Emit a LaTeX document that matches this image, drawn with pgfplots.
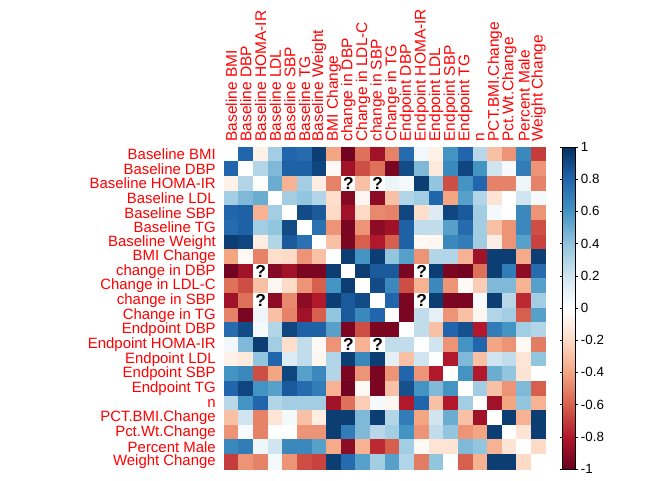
\documentclass[border=0pt]{standalone}
\usepackage{pgfplots}
\pgfplotsset{compat=1.18}
\usepackage{fontspec}
\setmainfont{Liberation Sans}
\begin{document}
\begin{tikzpicture}
\useasboundingbox (-168pt,-8.25pt) rectangle (336pt,351.75pt);
\begin{axis}[
 at={(0pt,0pt)}, anchor=south west,
 scale only axis, width=241.5pt, height=241.5pt,
 xmin=-0.5, xmax=21.5, ymin=-0.5, ymax=21.5,
 axis line style={draw=none}, major tick length=0pt,
 xtick={0,...,21}, ytick={0,...,21},
 xticklabels={Baseline BMI,Baseline DBP,Baseline HOMA-IR,Baseline LDL,Baseline SBP,Baseline TG,Baseline Weight,BMI Change,change in DBP,Change in LDL-C,change in SBP,Change in TG,Endpoint DBP,Endpoint HOMA-IR,Endpoint LDL,Endpoint SBP,Endpoint TG,n,PCT.BMI.Change,Pct.Wt.Change,Percent Male,Weight Change},
 yticklabels={Weight Change,Percent Male,Pct.Wt.Change,PCT.BMI.Change,n,Endpoint TG,Endpoint SBP,Endpoint LDL,Endpoint HOMA-IR,Endpoint DBP,Change in TG,change in SBP,Change in LDL-C,change in DBP,BMI Change,Baseline Weight,Baseline TG,Baseline SBP,Baseline LDL,Baseline HOMA-IR,Baseline DBP,Baseline BMI},
 xticklabel pos=right,
 xticklabel style={yshift=3pt, rotate=90, anchor=west, font=\fontsize{11.6}{11.6}\selectfont, text=red, inner sep=1pt},
 yticklabel style={anchor=east, font=\fontsize{11.2}{11.2}\selectfont, text=red, inner sep=1pt, xshift=-5pt},
 colormap={rdbu}{rgb255=(103,0,31) rgb255=(178,24,43) rgb255=(214,96,77) rgb255=(244,165,130) rgb255=(253,219,199) rgb255=(255,255,255) rgb255=(209,229,240) rgb255=(146,197,222) rgb255=(67,147,195) rgb255=(33,102,172) rgb255=(5,48,97)},
 point meta min=-1, point meta max=1,
 colorbar,
 colorbar style={
   at={(parent axis.north east)}, anchor=north west, xshift=3.75pt,
   width=9.75pt,
   ytick={-1,-0.8,-0.6,-0.4,-0.2,0,0.2,0.4,0.6,0.8,1},
   yticklabel style={font=\fontsize{10}{10}\selectfont, /pgf/number format/assume math mode=true, inner sep=2pt},
   tick align=outside, major tick length=2pt, tick style={black, thin},
   axis line style={black, thin},
 },
]
\addplot[matrix plot*, mesh/cols=22, point meta=explicit] table[row sep=\\, meta=c] {
x y c\\
0 21 0\\ 1 21 0.8\\ 2 21 -0.08\\ 3 21 0.35\\ 4 21 0.8\\ 5 21 0.78\\ 6 21 0.95\\ 7 21 -0.4\\ 8 21 -0.97\\ 9 21 -0.55\\ 10 21 -0.85\\ 11 21 -0.5\\ 12 21 0.78\\ 13 21 0.06\\ 14 21 -0.08\\ 15 21 0.6\\ 16 21 0.8\\ 17 21 0.28\\ 18 21 -0.3\\ 19 21 -0.45\\ 20 21 0.65\\ 21 21 -0.7\\
0 20 0.8\\ 1 20 0\\ 2 20 0.3\\ 3 20 0.45\\ 4 20 0.82\\ 5 20 0.82\\ 6 20 0.92\\ 7 20 -0.03\\ 8 20 -0.85\\ 9 20 -0.65\\ 10 20 -0.55\\ 11 20 -0.95\\ 12 20 0.9\\ 13 20 0.45\\ 14 20 -0.12\\ 15 20 0.65\\ 16 20 0.92\\ 17 20 0.6\\ 18 20 0.2\\ 19 20 0.04\\ 20 20 0.7\\ 21 20 -0.45\\
0 19 -0.08\\ 1 19 0.3\\ 2 19 0\\ 3 19 0.5\\ 4 19 -0.35\\ 5 19 0.35\\ 6 19 -0.1\\ 7 19 -0.5\\ 8 19 0\\ 9 19 -0.3\\ 10 19 0\\ 11 19 0.08\\ 12 19 0.05\\ 13 19 0.95\\ 14 19 0.4\\ 15 19 -0.65\\ 16 19 0.6\\ 17 19 0.8\\ 18 19 -0.5\\ 19 19 -0.5\\ 20 19 0.07\\ 21 19 -0.5\\
0 18 0.35\\ 1 18 0.45\\ 2 18 0.5\\ 3 18 0\\ 4 18 0.35\\ 5 18 0.4\\ 6 18 0.3\\ 7 18 -0.18\\ 8 18 -0.92\\ 9 18 -0.05\\ 10 18 -0.9\\ 11 18 -0.3\\ 12 18 0.3\\ 13 18 0.35\\ 14 18 0.8\\ 15 18 -0.4\\ 16 18 0.55\\ 17 18 0.3\\ 18 18 -0.15\\ 19 18 0\\ 20 18 0.2\\ 21 18 0.05\\
0 17 0.8\\ 1 17 0.82\\ 2 17 -0.35\\ 3 17 0.35\\ 4 17 0\\ 5 17 0.9\\ 6 17 0.85\\ 7 17 -0.2\\ 8 17 -0.85\\ 9 17 -0.2\\ 10 17 -0.48\\ 11 17 -0.5\\ 12 17 0.92\\ 13 17 -0.18\\ 14 17 0.15\\ 15 17 0.92\\ 16 17 0.85\\ 17 17 0.35\\ 18 17 0.05\\ 19 17 0\\ 20 17 0.65\\ 21 17 -0.45\\
0 16 0.78\\ 1 16 0.82\\ 2 16 0.35\\ 3 16 0.4\\ 4 16 0.9\\ 5 16 0\\ 6 16 0.75\\ 7 16 -0.45\\ 8 16 -0.95\\ 9 16 -0.45\\ 10 16 -0.9\\ 11 16 -0.85\\ 12 16 0.82\\ 13 16 0.25\\ 14 16 0.25\\ 15 16 0.55\\ 16 16 0.78\\ 17 16 0.35\\ 18 16 -0.3\\ 19 16 -0.45\\ 20 16 0.65\\ 21 16 -0.65\\
0 15 0.95\\ 1 15 0.92\\ 2 15 -0.1\\ 3 15 0.3\\ 4 15 0.85\\ 5 15 0.75\\ 6 15 0\\ 7 15 -0.3\\ 8 15 -0.95\\ 9 15 -0.6\\ 10 15 -0.8\\ 11 15 -0.6\\ 12 15 0.82\\ 13 15 -0.03\\ 14 15 -0.05\\ 15 15 0.65\\ 16 15 0.7\\ 17 15 0.35\\ 18 15 -0.1\\ 19 15 -0.45\\ 20 15 0.55\\ 21 15 -0.68\\
0 14 -0.4\\ 1 14 -0.03\\ 2 14 -0.5\\ 3 14 -0.18\\ 4 14 -0.2\\ 5 14 -0.45\\ 6 14 -0.3\\ 7 14 0\\ 8 14 0.95\\ 9 14 0.6\\ 10 14 0.95\\ 11 14 0.4\\ 12 14 0.55\\ 13 14 -0.45\\ 14 14 0.3\\ 15 14 0.3\\ 16 14 -0.35\\ 17 14 -0.85\\ 18 14 0.95\\ 19 14 0.95\\ 20 14 -0.38\\ 21 14 0.95\\
0 13 -0.97\\ 1 13 -0.85\\ 2 13 0\\ 3 13 -0.92\\ 4 13 -0.85\\ 5 13 -0.95\\ 6 13 -0.95\\ 7 13 0.95\\ 8 13 0\\ 9 13 0.95\\ 10 13 0.85\\ 11 13 0.85\\ 12 13 -0.95\\ 13 13 0\\ 14 13 0.95\\ 15 13 -0.95\\ 16 13 -0.97\\ 17 13 -0.55\\ 18 13 0.95\\ 19 13 0.7\\ 20 13 -0.9\\ 21 13 0.78\\
0 12 -0.55\\ 1 12 -0.65\\ 2 12 -0.3\\ 3 12 -0.05\\ 4 12 -0.2\\ 5 12 -0.45\\ 6 12 -0.6\\ 7 12 0.6\\ 8 12 0.95\\ 9 12 0\\ 10 12 0.9\\ 11 12 0.65\\ 12 12 -0.65\\ 13 12 -0.35\\ 14 12 0.65\\ 15 12 -0.45\\ 16 12 -0.03\\ 17 12 -0.25\\ 18 12 0.45\\ 19 12 0.45\\ 20 12 -0.35\\ 21 12 0.55\\
0 11 -0.85\\ 1 11 -0.55\\ 2 11 0\\ 3 11 -0.9\\ 4 11 -0.48\\ 5 11 -0.9\\ 6 11 -0.8\\ 7 11 0.95\\ 8 11 0.85\\ 9 11 0.9\\ 10 11 0\\ 11 11 0.8\\ 12 11 -0.95\\ 13 11 0\\ 14 11 0.95\\ 15 11 -0.95\\ 16 11 -0.95\\ 17 11 0.04\\ 18 11 0.95\\ 19 11 0.28\\ 20 11 -0.75\\ 21 11 0.35\\
0 10 -0.5\\ 1 10 -0.95\\ 2 10 0.08\\ 3 10 -0.3\\ 4 10 -0.5\\ 5 10 -0.85\\ 6 10 -0.6\\ 7 10 0.4\\ 8 10 0.85\\ 9 10 0.65\\ 10 10 0.8\\ 11 10 0\\ 12 10 -0.95\\ 13 10 0.25\\ 14 10 0.12\\ 15 10 -0.45\\ 16 10 -0.3\\ 17 10 -0.05\\ 18 10 0.3\\ 19 10 0.35\\ 20 10 -0.6\\ 21 10 0.55\\
0 9 0.78\\ 1 9 0.9\\ 2 9 0.05\\ 3 9 0.3\\ 4 9 0.92\\ 5 9 0.82\\ 6 9 0.82\\ 7 9 0.55\\ 8 9 -0.95\\ 9 9 -0.65\\ 10 9 -0.95\\ 11 9 -0.95\\ 12 9 0\\ 13 9 0.25\\ 14 9 -0.3\\ 15 9 0.8\\ 16 9 0.88\\ 17 9 -0.8\\ 18 9 0.7\\ 19 9 0.6\\ 20 9 0.35\\ 21 9 0.3\\
0 8 0.06\\ 1 8 0.45\\ 2 8 0.95\\ 3 8 0.35\\ 4 8 -0.18\\ 5 8 0.25\\ 6 8 -0.03\\ 7 8 -0.45\\ 8 8 0\\ 9 8 -0.35\\ 10 8 0\\ 11 8 0.25\\ 12 8 0.25\\ 13 8 0\\ 14 8 0.2\\ 15 8 -0.45\\ 16 8 0.6\\ 17 8 0.8\\ 18 8 -0.4\\ 19 8 -0.45\\ 20 8 -0.03\\ 21 8 -0.52\\
0 7 -0.08\\ 1 7 -0.12\\ 2 7 0.4\\ 3 7 0.8\\ 4 7 0.15\\ 5 7 0.25\\ 6 7 -0.05\\ 7 7 0.3\\ 8 7 0.95\\ 9 7 0.65\\ 10 7 0.95\\ 11 7 0.12\\ 12 7 -0.3\\ 13 7 0.2\\ 14 7 0\\ 15 7 -0.8\\ 16 7 0.45\\ 17 7 -0.3\\ 18 7 0.2\\ 19 7 0.25\\ 20 7 -0.15\\ 21 7 0.4\\
0 6 0.6\\ 1 6 0.65\\ 2 6 -0.65\\ 3 6 -0.4\\ 4 6 0.92\\ 5 6 0.55\\ 6 6 0.65\\ 7 6 0.3\\ 8 6 -0.95\\ 9 6 -0.45\\ 10 6 -0.95\\ 11 6 -0.45\\ 12 6 0.8\\ 13 6 -0.45\\ 14 6 -0.8\\ 15 6 0\\ 16 6 0.6\\ 17 6 -0.8\\ 18 6 0.5\\ 19 6 0.4\\ 20 6 -0.15\\ 21 6 0\\
0 5 0.8\\ 1 5 0.92\\ 2 5 0.6\\ 3 5 0.55\\ 4 5 0.85\\ 5 5 0.78\\ 6 5 0.7\\ 7 5 -0.35\\ 8 5 -0.97\\ 9 5 -0.03\\ 10 5 -0.95\\ 11 5 -0.3\\ 12 5 0.88\\ 13 5 0.6\\ 14 5 0.45\\ 15 5 0.6\\ 16 5 0\\ 17 5 0.35\\ 18 5 -0.3\\ 19 5 -0.45\\ 20 5 0.45\\ 21 5 -0.6\\
0 4 0.28\\ 1 4 0.6\\ 2 4 0.8\\ 3 4 0.3\\ 4 4 0.35\\ 5 4 0.35\\ 6 4 0.35\\ 7 4 -0.85\\ 8 4 -0.55\\ 9 4 -0.25\\ 10 4 0.04\\ 11 4 -0.05\\ 12 4 -0.8\\ 13 4 0.8\\ 14 4 -0.3\\ 15 4 -0.8\\ 16 4 0.35\\ 17 4 0\\ 18 4 -0.85\\ 19 4 -0.4\\ 20 4 0.4\\ 21 4 -0.35\\
0 3 -0.3\\ 1 3 0.2\\ 2 3 -0.5\\ 3 3 -0.15\\ 4 3 0.05\\ 5 3 -0.3\\ 6 3 -0.1\\ 7 3 0.95\\ 8 3 0.95\\ 9 3 0.45\\ 10 3 0.95\\ 11 3 0.3\\ 12 3 0.7\\ 13 3 -0.4\\ 14 3 0.2\\ 15 3 0.5\\ 16 3 -0.3\\ 17 3 -0.85\\ 18 3 0\\ 19 3 0.95\\ 20 3 -0.35\\ 21 3 0.95\\
0 2 -0.45\\ 1 2 0.04\\ 2 2 -0.5\\ 3 2 0\\ 4 2 0\\ 5 2 -0.45\\ 6 2 -0.45\\ 7 2 0.95\\ 8 2 0.7\\ 9 2 0.45\\ 10 2 0.28\\ 11 2 0.35\\ 12 2 0.6\\ 13 2 -0.45\\ 14 2 0.25\\ 15 2 0.4\\ 16 2 -0.45\\ 17 2 -0.4\\ 18 2 0.95\\ 19 2 0\\ 20 2 -0.15\\ 21 2 0.95\\
0 1 0.65\\ 1 1 0.7\\ 2 1 0.07\\ 3 1 0.2\\ 4 1 0.65\\ 5 1 0.65\\ 6 1 0.55\\ 7 1 -0.38\\ 8 1 -0.9\\ 9 1 -0.35\\ 10 1 -0.75\\ 11 1 -0.6\\ 12 1 0.35\\ 13 1 -0.03\\ 14 1 -0.15\\ 15 1 -0.15\\ 16 1 0.45\\ 17 1 0.4\\ 18 1 -0.35\\ 19 1 -0.15\\ 20 1 0\\ 21 1 -0.2\\
0 0 -0.7\\ 1 0 -0.45\\ 2 0 -0.5\\ 3 0 0.05\\ 4 0 -0.45\\ 5 0 -0.65\\ 6 0 -0.68\\ 7 0 0.95\\ 8 0 0.78\\ 9 0 0.55\\ 10 0 0.35\\ 11 0 0.55\\ 12 0 0.3\\ 13 0 -0.52\\ 14 0 0.4\\ 15 0 0\\ 16 0 -0.6\\ 17 0 -0.35\\ 18 0 0.95\\ 19 0 0.95\\ 20 0 -0.2\\ 21 0 0\\
};
\addplot[only marks, black, mark=text, text mark={?}, text mark as node=true, text mark style={font=\bfseries\fontsize{13}{13}\selectfont, text=black}] coordinates {(8,19) (10,19) (8,8) (10,8) (2,13) (13,13) (2,11) (13,11)};
\end{axis}
\end{tikzpicture}
\end{document}
